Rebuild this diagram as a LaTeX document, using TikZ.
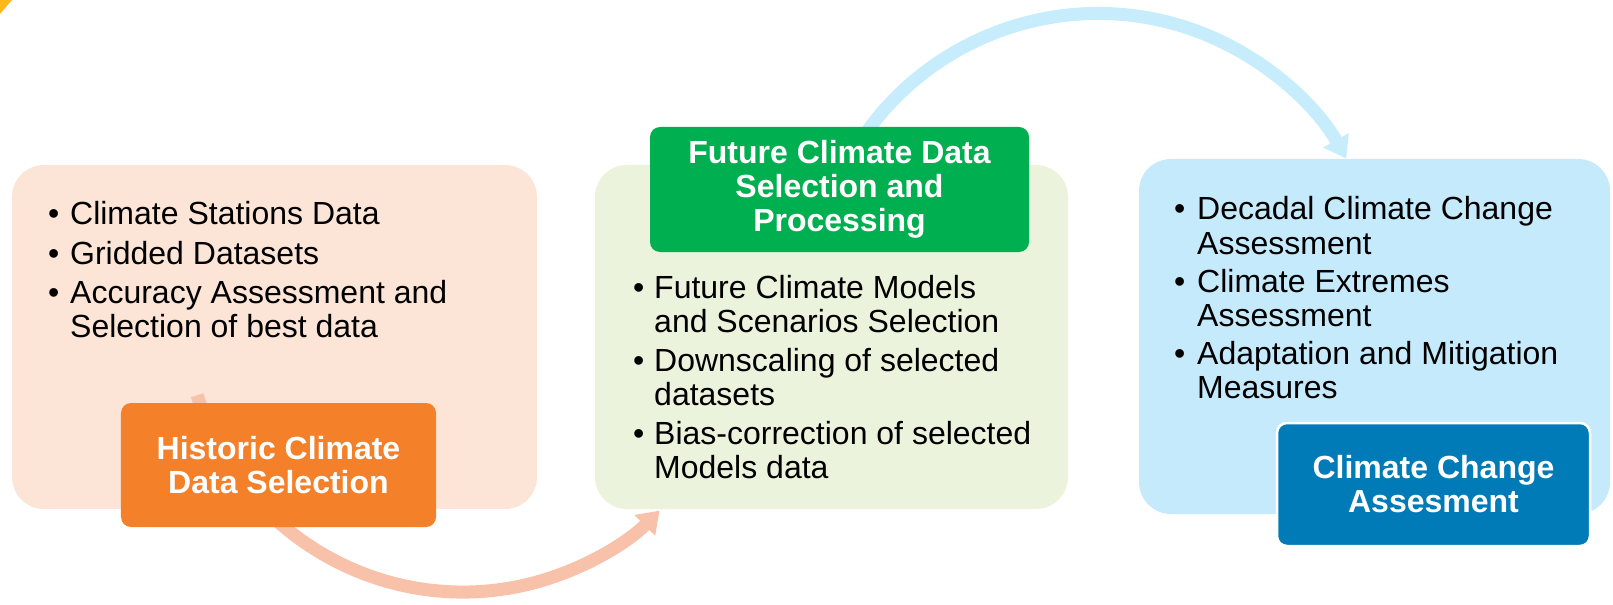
\documentclass[tikz,border=0pt]{standalone}
\usepackage{fontspec}
\setmainfont{Liberation Sans}
\usetikzlibrary{arrows.meta}

\definecolor{peachBg}{RGB}{252,228,214}
\definecolor{orangeLbl}{RGB}{245,128,42}
\definecolor{salmonArr}{RGB}{248,193,170}
\definecolor{greenBg}{RGB}{235,243,220}
\definecolor{greenLbl}{RGB}{0,176,80}
\definecolor{blueBg}{RGB}{197,234,251}
\definecolor{blueArr}{RGB}{199,237,253}
\definecolor{blueLbl}{RGB}{0,123,184}
\definecolor{cornerYlw}{RGB}{255,184,28}

\begin{document}
\begin{tikzpicture}[x=1bp,y=-1bp,
      stageBox/.style={rounded corners=32bp,inner sep=0pt},
      stageLabel/.style={rounded corners=10bp,text=white,align=center,inner sep=0pt,
        font=\fontsize{32bp}{34bp}\selectfont\bfseries},
      itemList/.style={anchor=base west,inner sep=0pt,font=\fontsize{32bp}{34bp}\selectfont},
      flowArrow/.style={line width=13bp,-{Triangle[width=28bp,length=21bp]}},
    ]
    \useasboundingbox (0,0) rectangle (1613,605);

    \fill[cornerYlw] (0,0) -- (12,0) -- (0,14) -- cycle;

    % the three stages
    \node[stageBox,fill=peachBg,minimum width=525bp,minimum height=344bp] (histBox) at (274.5,337) {};
    \node[stageBox,fill=greenBg,minimum width=473bp,minimum height=344bp] (futBox) at (831.5,337) {};
    \node[stageBox,fill=blueBg,minimum width=471bp,minimum height=355bp] (assBox) at (1374.5,336.5) {};

    % arrows between stages
    \coordinate (histStart) at ({463+278*cos(163)},{314+278*sin(163)});
    \draw[flowArrow,salmonArr] (histStart) arc[start angle=163,end angle=45,radius=278];
    \coordinate (futStart) at ({1098+285*cos(205)},{298.5+285*sin(205)});
    \draw[flowArrow,blueArr] (futStart) arc[start angle=205,end angle=330.6,radius=285];

    \node[itemList] (histList) at (48,225) {\begin{tabular}[t]{@{}p{22bp}@{}l@{}}
      \textbullet & Climate Stations Data\\[5bp]
      \textbullet & Gridded Datasets\\[5bp]
      \textbullet & Accuracy Assessment and\\
                  & Selection of best data
    \end{tabular}};
    \node[itemList] (futList) at (633,298) {\begin{tabular}[t]{@{}p{21bp}@{}l@{}}
      \textbullet & Future Climate Models\\
                  & and Scenarios Selection\\[5bp]
      \textbullet & Downscaling of selected\\
                  & datasets\\[5bp]
      \textbullet & Bias-correction of selected\\
                  & Models data
    \end{tabular}};
    \node[itemList] (assList) at (1174,220) {\begin{tabular}[t]{@{}p{23bp}@{}l@{}}
      \textbullet & Decadal Climate Change\\
                  & Assessment\\[4bp]
      \textbullet & Climate Extremes\\
                  & Assessment\\[4bp]
      \textbullet & Adaptation and Mitigation\\
                  & Measures
    \end{tabular}};

    % stage labels
    \node[stageLabel,fill=orangeLbl,minimum width=315bp,minimum height=124bp] (histLbl) at (278.5,465)
      {Historic Climate\\Data Selection};
    \node[stageLabel,fill=greenLbl,minimum width=379bp,minimum height=125bp] (futLbl) at (839.5,189.5)
      {Future Climate Data\\Selection and\\Processing};
    \node[stageLabel,fill=blueLbl,draw=white,line width=2.5bp,minimum width=313bp,minimum height=123bp] (assLbl) at (1433.5,484.5)
      {Climate Change\\Assesment};
\end{tikzpicture}
\end{document}
